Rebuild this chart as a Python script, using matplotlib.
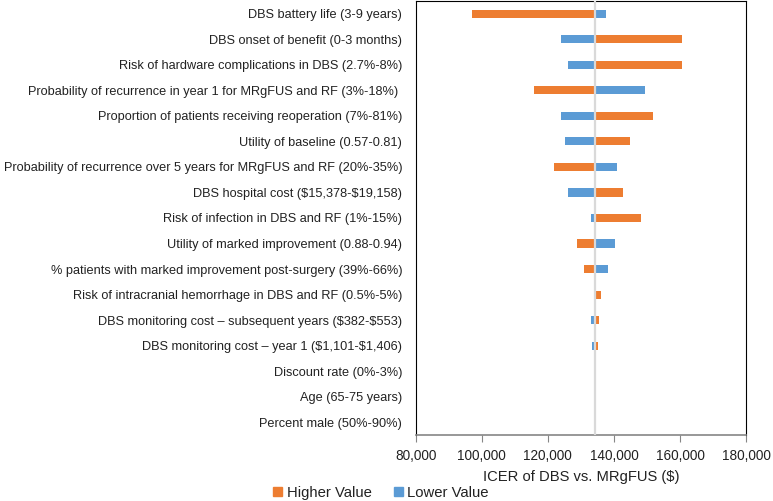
import matplotlib
matplotlib.use("Agg")
import matplotlib.pyplot as plt
from matplotlib.patches import Patch
from matplotlib.ticker import FuncFormatter

plt.rcParams['font.family'] = ['Liberation Sans', 'DejaVu Sans']
plt.rcParams['text.parse_math'] = False

labels = [
    "DBS battery life (3-9 years)",
    "DBS onset of benefit (0-3 months)",
    "Risk of hardware complications in DBS (2.7%-8%)",
    "Probability of recurrence in year 1 for MRgFUS and RF (3%-18%) ",
    "Proportion of patients receiving reoperation (7%-81%)",
    "Utility of baseline (0.57-0.81)",
    "Probability of recurrence over 5 years for MRgFUS and RF (20%-35%)",
    "DBS hospital cost ($15,378-$19,158)",
    "Risk of infection in DBS and RF (1%-15%)",
    "Utility of marked improvement (0.88-0.94)",
    "% patients with marked improvement post-surgery (39%-66%)",
    "Risk of intracranial hemorrhage in DBS and RF (0.5%-5%)",
    "DBS monitoring cost \u2013 subsequent years ($382-$553)",
    "DBS monitoring cost \u2013 year 1 ($1,101-$1,406)",
    "Discount rate (0%-3%)",
    "Age (65-75 years)",
    "Percent male (50%-90%)",
]
base = 134400
higher = [96970, 160700, 160500, 115760, 151700, 144940, 121910, 142820, 148180,
          128880, 130900, 136240, 135540, 135240, 134700, 134400, 134400]
lower = [137670, 124120, 126060, 149480, 123940, 125150, 141090, 126260, 133220,
         140300, 138270, 134400, 133220, 133420, 133900, 134400, 134400]

orange = '#ED7D31'
blue = '#5B9BD5'

fig = plt.figure(figsize=(7.73, 5.01), dpi=100)
ax = fig.add_axes([415.7 / 773, 1 - 435 / 501, (746 - 415.7) / 773, 434 / 501])

y = list(range(len(labels)))
h = 0.32
ax.barh(y, [v - base for v in higher], left=base, height=h, color=orange, zorder=2)
ax.barh(y, [v - base for v in lower], left=base, height=h, color=blue, zorder=2)
ax.axvline(base, color='#D9D9D9', lw=1.6, zorder=3)

ax.set_xlim(80000, 180000)
ax.set_ylim(len(labels) - 0.5, -0.5)
ax.set_xticks(range(80000, 180001, 20000))
ax.xaxis.set_major_formatter(FuncFormatter(lambda v, p: f"{int(v):,}"))
ax.set_yticks(y)
ax.set_yticklabels(labels)
ax.tick_params(axis='y', length=0, pad=9.7, labelsize=9.2, labelcolor='#222222')
ax.tick_params(axis='x', length=5, color='#868686', labelsize=9.8, pad=5, direction='out',
               labelcolor='#222222')

for s in ['top', 'left', 'right']:
    ax.spines[s].set_color('black')
    ax.spines[s].set_linewidth(0.8)
ax.spines['bottom'].set_color('#868686')
ax.spines['bottom'].set_linewidth(1.2)

ax.set_xlabel("ICER of DBS vs. MRgFUS ($)", fontsize=10.6, labelpad=5, color='#222222')

handles = [Patch(color=orange, label='Higher Value'), Patch(color=blue, label='Lower Value')]
fig.legend(handles=handles, loc='center', bbox_to_anchor=(381 / 773, 1 - 493 / 501), ncol=2,
           frameon=False, fontsize=10.7, handlelength=0.6, handleheight=0.6,
           handletextpad=0.3, columnspacing=1.5, borderpad=0, labelcolor='#222222')

fig.savefig("out.png", dpi=100)
